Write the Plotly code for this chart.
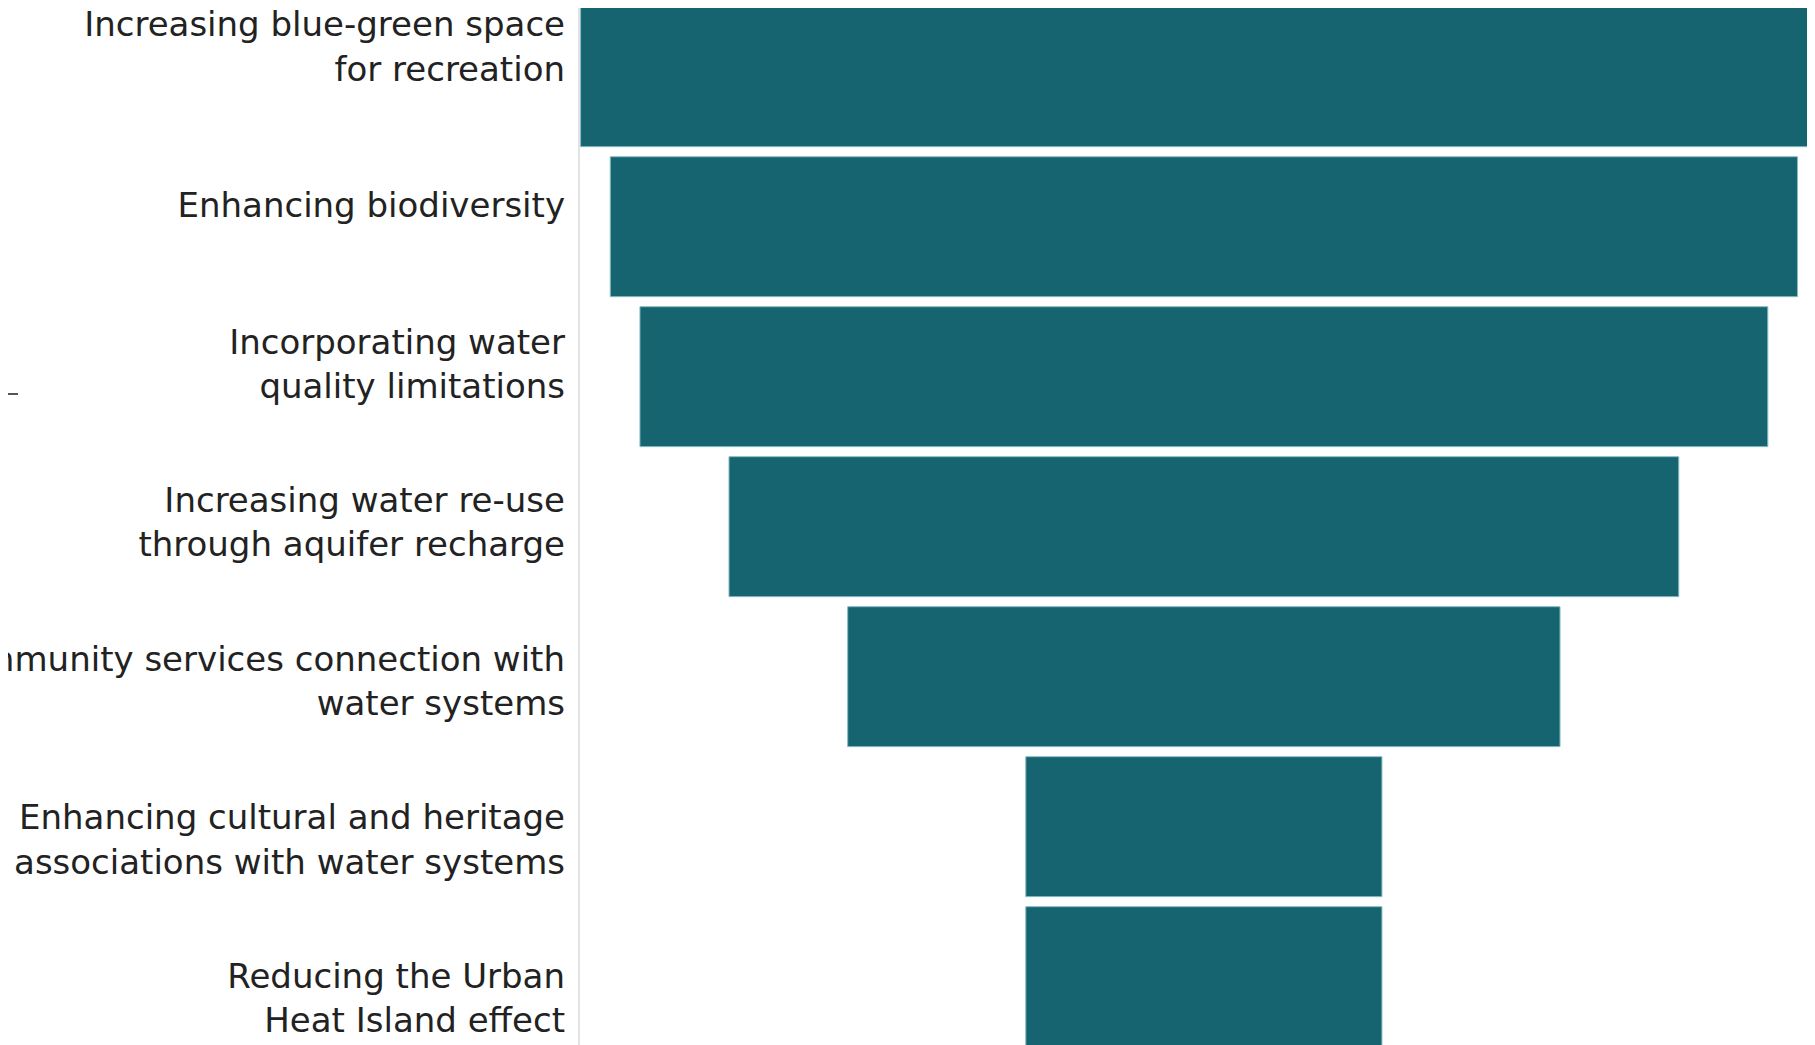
import plotly.graph_objects as go

# Data
categories = [
    "Increasing blue-green space<br>for recreation",
    "Enhancing biodiversity",
    "Incorporating water<br>quality limitations",
    "Increasing water re-use<br>through aquifer recharge",
    "Enhancing community services connection with<br>water systems",
    "Enhancing cultural and heritage<br>associations with water systems",
    "Reducing the Urban<br>Heat Island effect",
]
values = [21, 20, 19, 16, 12, 6, 6]

BAR_COLOR = "#15646f"
FONT = "DejaVu Sans"
FONT_SIZE = 34

fig = go.Figure()

fig.add_trace(go.Funnel(
    y=list(range(len(categories))),
    x=values,
    orientation="h",
    textinfo="none",
    hoverinfo="x",
    marker=dict(color=BAR_COLOR, line=dict(color="#86bcc4", width=1)),
    connector=dict(visible=False),
    showlegend=False,
))

# invisible helper trace carrying the label axis
fig.add_trace(go.Scatter(
    x=[0] * len(categories),
    y=list(range(len(categories))),
    yaxis="y2",
    mode="markers",
    marker=dict(opacity=0),
    hoverinfo="skip",
    showlegend=False,
))

fig.update_layout(
    width=1815,
    height=1045,
    margin=dict(l=572, r=0, t=0, b=0, pad=0, autoexpand=False),
    paper_bgcolor="white",
    plot_bgcolor="white",
    funnelgap=0.067,
    font=dict(family=FONT, size=FONT_SIZE, color="#222222"),
    xaxis=dict(range=[-10.51, 10.43], visible=False, fixedrange=True, automargin=False),
    yaxis=dict(
        type="linear",
        range=[6.509, -0.458],
        showticklabels=False,
        showgrid=False,
        zeroline=False,
        showline=True,
        linecolor="#e2e2e2",
        linewidth=1.5,
        ticks="",
        automargin=False,
    ),
    yaxis2=dict(
        overlaying="y",
        side="left",
        anchor="x",
        range=[6.3455, -0.2434],
        tickmode="array",
        tickvals=list(range(len(categories))),
        ticktext=categories,
        showgrid=False,
        zeroline=False,
        showline=False,
        ticks="",
        ticklabelstandoff=14,
        ticklabeloverflow="allow",
        automargin=False,
        tickfont=dict(family=FONT, size=FONT_SIZE, color="#222222"),
    ),
    shapes=[dict(
        type="line", xref="paper", yref="paper",
        x0=-0.4666, x1=-0.4521, y0=0.6306, y1=0.6306,
        line=dict(color="#555555", width=2),
    )],
)

fig.write_html("out.html")
